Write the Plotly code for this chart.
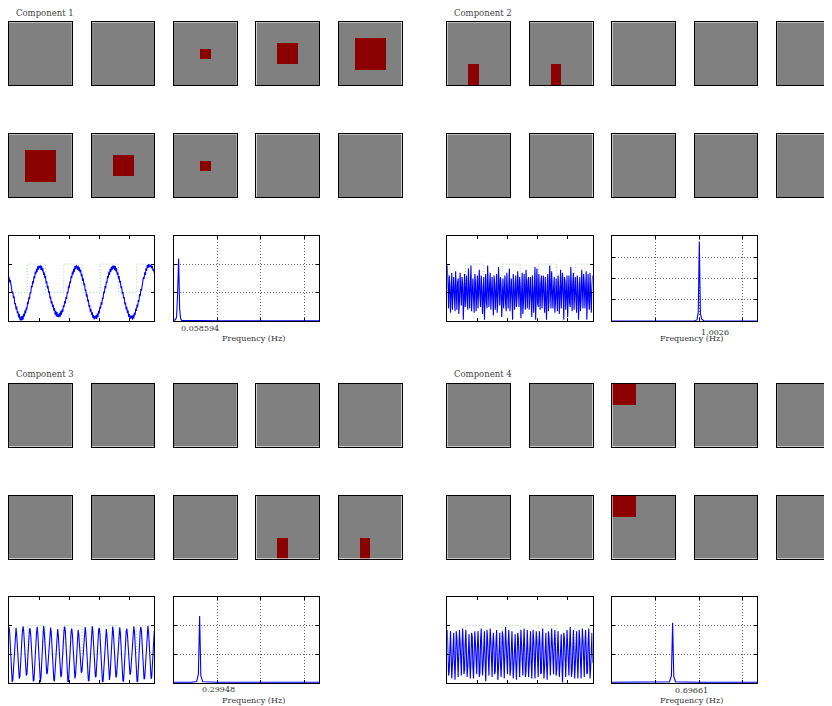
import plotly.graph_objects as go

# page window is 832x706; the html body has an 8px margin, so the figure is
# drawn 8px in from the top-left corner and sized to fill the rest.
PAGE_W, PAGE_H = 832, 706
OFF = 8
W, H = PAGE_W - OFF, PAGE_H - OFF

# ---------------- data ----------------
grid = 24
# red (active) region of each of the 10 frames: (row0, row1, col0, col1) or None
comp1_frames = [None, None, (10, 14, 10, 14), (8, 16, 8, 16), (6, 18, 6, 18),
                (6, 18, 6, 18), (8, 16, 8, 16), (10, 14, 10, 14), None, None]
comp2_frames = [(16, 24, 8, 12), (16, 24, 8, 12), None, None, None,
                None, None, None, None, None]
comp3_frames = [None, None, None, None, None,
                None, None, None, (16, 24, 8, 12), (16, 24, 8, 12)]
comp4_frames = [None, None, (0, 8, 0, 9), None, None,
                None, None, (0, 8, 0, 9), None, None]

# stimulus block design (sample index of block edges, level of each block)
stim_edges = [0, 28.5, 57, 85.5, 114, 142.5, 171, 199.5, 227]
stim_levels = [0, 1, 0, 1, 0, 1, 0, 1, 1]

comp1_ts = [0.56, 0.36, 0.45, 0.22, 0.25, -0.02, 0.04, -0.19, -0.13, -0.40, -0.36, -0.59, -0.49, -0.72, -0.65, -0.87, -0.74, -0.93, -0.97, -0.83,
            -0.97, -0.81, -0.95, -0.73, -0.83, -0.62, -0.73, -0.52, -0.59, -0.32, -0.40, -0.16, -0.23, 0.01, -0.03, 0.24, 0.18, 0.41, 0.32, 0.57, 0.50, 0.74, 0.65, 0.84, 0.72, 0.93, 0.81, 0.94,
            0.86,
            0.96, 0.80, 0.94, 0.75, 0.85, 0.62, 0.71, 0.51, 0.59, 0.34, 0.40, 0.15, 0.23, -0.01, 0.05, -0.20, -0.14, -0.38, -0.29, -0.51, -0.42, -0.63, -0.54, -0.77, -0.64, -0.83, -0.68, -0.85, -0.76, -0.86,
            -0.71, -0.84, -0.64, -0.77, -0.58, -0.68, -0.44, -0.51, -0.29, -0.38, -0.15, -0.22, 0.03, -0.02, 0.24, 0.16, 0.39, 0.33, 0.58, 0.51, 0.74, 0.63, 0.84, 0.72, 0.93, 0.82, 0.96, 0.87,
            0.81, 0.95, 0.76, 0.89, 0.71, 0.80, 0.57, 0.65, 0.41, 0.50, 0.26, 0.33, 0.07, 0.11, -0.14, -0.06, -0.31, -0.24, -0.50, -0.43, -0.67, -0.57, -0.77, -0.68, -0.89, -0.78, -0.94, -0.82, -0.91,
            -0.79, -0.92, -0.73, -0.86, -0.64, -0.73, -0.49, -0.56, -0.34, -0.42, -0.17, -0.22, 0.04, -0.02, 0.23, 0.15, 0.39, 0.34, 0.59, 0.51, 0.73, 0.62, 0.84, 0.73, 0.91, 0.79, 0.94, 0.84,
            0.96, 0.79, 0.93, 0.74, 0.86, 0.63, 0.71, 0.49, 0.58, 0.35, 0.42, 0.16, 0.22, -0.04, 0.03, -0.20, -0.15, -0.41, -0.35, -0.59, -0.50, -0.72, -0.62, -0.85, -0.75, -0.92, -0.80, -0.90, -0.81,
            -0.95, -0.77, -0.90, -0.70, -0.79, -0.56, -0.64, -0.42, -0.51, -0.26, -0.32, -0.05, -0.12, 0.13, 0.07, 0.32, 0.28, 0.55, 0.48, 0.71, 0.62, 0.85, 0.76, 0.97, 0.87, 1.00, 0.89, 0.98,
            0.90, 0.97, 0.85, 0.93, 0.77, 0.83, 0.68]

comp2_ts = [0.95, -0.30, -0.55, 0.60, 0.25, -0.70, 0.15, 0.70, -0.60, -0.20,
            0.55, -0.10, -0.65, 0.75, 0.10, -0.60, 0.35, 0.50, -0.75, -0.30,
            0.70, -0.25, -0.45, 0.55, 0.30, -0.95, 0.20, 0.65, -0.50, -0.15,
            0.60, -0.35, -0.60, 0.85, 0.15, -0.55, 0.30, 0.95, -0.65, -0.25,
            0.50, -0.20, -0.70, 0.65, 0.35, -0.65, 0.10, 0.60, -0.55, -0.10,
            0.80, -0.15, -0.50, 0.60, 0.20, -0.75, 0.40, 0.55, -0.95, -0.35,
            0.65, -0.30, -0.55, 0.95, 0.05, -0.50, 0.25, 0.70, -0.60, -0.20,
            0.55, -0.25, -0.80, 0.60, 0.30, -0.60, 0.15, 0.65, -0.70, -0.30,
            0.90, -0.10, -0.45, 0.55, 0.25, -0.85, 0.35, 0.50, -0.55, -0.05,
            0.60, -0.35, -0.65, 0.70, 0.10, -0.55, 0.20, 0.85, -0.65, -0.25,
            0.50, -0.20, -0.95, 0.65, 0.30, -0.60, 0.30, 0.60, -0.50, -0.15,
            0.75, -0.30, -0.50, 0.55, 0.20, -0.90, 0.10, 0.70, -0.75, -0.35,
            0.65, -0.05, -0.60, 0.80, 0.35, -0.55, 0.40, 0.55, -0.60, -0.20,
            0.55, -0.25, -0.85, 0.60, 0.15, -0.70, 0.20, 0.90, -0.95, -0.30,
            0.85, -0.35, -0.50, 0.65, 0.25, -0.60, 0.30, 0.60, -0.55, -0.10,
            0.60, -0.15, -0.70, 0.55, 0.05, -0.95, 0.25, 0.65, -0.65, -0.25,
            0.95, -0.30, -0.55, 0.75, 0.30, -0.55, 0.15, 0.55, -0.70, -0.35,
            0.50, -0.20, -0.65, 0.60, 0.20, -0.75, 0.35, 0.80, -0.55, -0.15,
            0.70, -0.10, -0.95, 0.55, 0.35, -0.60, 0.20, 0.60, -0.85, -0.30,
            0.60, -0.35, -0.50, 0.90, 0.10, -0.65, 0.30, 0.70, -0.60, -0.20,
            0.55, -0.25, -0.70, 0.60, 0.25, -0.95, 0.15, 0.55, -0.65, -0.25,
            0.80, -0.15, -0.55, 0.65, 0.30, -0.55, 0.40, 0.75, -0.95, -0.10,
            0.65, -0.30, -0.60, 0.70, 0.20, -0.70, 0.25, 0.60]

comp3_ts = [0.95, 0.78, 0.35, -0.20, -0.65, -0.98, -0.90, -0.55, -0.10, 0.40, 0.85,
            0.92, 0.70, 0.28, -0.25, -0.60, -0.85, -0.80, -0.50, -0.05, 0.45, 0.80,
            0.98, 0.80, 0.30, -0.15, -0.55, -0.75, -0.70, -0.40, 0.00, 0.50, 0.88,
            0.90, 0.65, 0.20, -0.30, -0.70, -0.95, -0.92, -0.60, -0.15, 0.35, 0.75,
            0.96, 0.72, 0.25, -0.30, -0.75, -0.98, -0.80, -0.35, 0.15, 0.65,
            0.99, 0.82, 0.40, -0.10, -0.50, -0.70, -0.65, -0.35, 0.05, 0.48, 0.85,
            0.93, 0.75, 0.30, -0.22, -0.62, -0.90, -0.95, -0.62, -0.18, 0.30, 0.72,
            0.88, 0.68, 0.25, -0.20, -0.58, -0.80, -0.75, -0.45, -0.02, 0.45, 0.82,
            0.97, 0.80, 0.35, -0.18, -0.65, -0.96, -0.98, -0.66, -0.20, 0.32, 0.78,
            0.90, 0.70, 0.22, -0.28, -0.68, -0.85, -0.72, -0.30, 0.18, 0.62,
            0.85, 0.70, 0.30, -0.15, -0.50, -0.65, -0.60, -0.30, 0.08, 0.50, 0.80,
            0.95, 0.76, 0.32, -0.22, -0.64, -0.94, -0.92, -0.58, -0.12, 0.38, 0.82,
            0.98, 0.82, 0.38, -0.12, -0.55, -0.80, -0.78, -0.48, -0.05, 0.42, 0.84,
            0.92, 0.72, 0.26, -0.26, -0.70, -0.98, -0.95, -0.60, -0.14, 0.36, 0.76,
            0.88, 0.66, 0.20, -0.30, -0.72, -0.90, -0.70, -0.28, 0.20, 0.64,
            0.97, 0.80, 0.36, -0.16, -0.58, -0.82, -0.76, -0.44, 0.00, 0.46, 0.85,
            0.94, 0.74, 0.30, -0.24, -0.66, -0.96, -0.94, -0.62, -0.16, 0.34, 0.78,
            0.90, 0.70, 0.28, -0.20, -0.55, -0.72, -0.66, -0.36, 0.05, 0.48, 0.86,
            0.98, 0.80, 0.34, -0.20, -0.64, -0.95, -0.97, -0.64, -0.18, 0.34, 0.80,
            0.96, 0.78, 0.32, -0.18, -0.60, -0.88, -0.85, -0.52, -0.08, 0.42, 0.84,
            0.99, 0.80, 0.36, -0.16, -0.60, -0.86, -0.80, -0.48, -0.04, 0.45, 0.82]

comp4_ts = [0.85, 0.20, -0.75, -0.60, 0.45, 0.80, 0.00, -0.85, -0.40, 0.65, 0.75, -0.25, -0.90, -0.15, 0.80, 0.55, -0.50, -0.80, 0.05, 0.85, 0.40, -0.65, -0.75, 0.30,
            0.90, 0.25, -0.70, -0.55, 0.40, 0.85, -0.05, -0.80, -0.45, 0.60, 0.70, -0.30, -0.85, -0.20, 0.75, 0.60, -0.45, -0.85, 0.00, 0.80, 0.35, -0.70, -0.70, 0.25,
            0.80, 0.15, -0.80, -0.65, 0.50, 0.90, 0.05, -0.75, -0.35, 0.70, 0.80, -0.20, -0.95, -0.10, 0.85, 0.50, -0.55, -0.75, 0.10, 0.90, 0.45, -0.60, -0.80, 0.35,
            0.75, 0.20, -0.70, -0.60, 0.40, 0.85, -0.05, -0.90, -0.45, 0.60, 0.75, -0.30, -0.80, -0.20, 0.80, 0.60, -0.50, -0.85, 0.05, 0.95, 0.40, -0.70, -0.70, 0.30,
            0.85, 0.25, -0.75, -0.55, 0.45, 0.80, 0.00, -0.85, -0.40, 0.65, 0.70, -0.25, -0.90, -0.15, 0.75, 0.55, -0.45, -0.80, 0.00, 0.85, 0.35, -0.65, -0.75, 0.25,
            0.90, 0.15, -0.80, -0.60, 0.50, 0.85, 0.05, -0.80, -0.35, 0.70, 0.80, -0.20, -0.85, -0.10, 0.85, 0.50, -0.55, -0.85, 0.10, 0.80, 0.45, -0.60, -0.80, 0.35,
            0.80, 0.20, -0.70, -0.65, 0.40, 0.90, -0.05, -0.85, -0.45, 0.60, 0.75, -0.30, -0.90, -0.20, 0.80, 0.60, -0.50, -0.75, 0.05, 0.90, 0.40, -0.70, -0.70, 0.30,
            0.85, 0.25, -0.75, -0.55, 0.45, 0.80, 0.00, -0.80, -0.40, 0.65, 0.70, -0.25, -1.00, -0.15, 0.75, 0.55, -0.45, -0.80, 0.00, 0.85, 0.35, -0.65, -0.75, 0.25,
            0.95, 0.15, -0.80, -0.60, 0.50, 0.85, 0.05, -0.85, -0.35, 0.70, 0.80, -0.20, -0.85, -0.10, 0.85, 0.50, -0.55, -0.85, 0.10, 0.90, 0.45, -0.60, -0.80, 0.35,
            0.85, 0.20, -0.70, -0.65, 0.40, 0.90, -0.05, -0.85, -0.45, 0.60, 0.75, -0.30]

peak_freqs = [0.058594, 1.0026, 0.29948, 0.69661]

comp1_spec_f = [0.0, 0.0117, 0.0234, 0.0352, 0.0469, 0.058594, 0.0703, 0.082, 0.0938, 0.2, 0.5, 1.0, 1.5, 1.6667]
comp1_spec_a = [0.06, 0.04, 0.05, 0.15, 0.95, 2.2, 0.45, 0.08, 0.03, 0.02, 0.015, 0.01, 0.01, 0.01]
comp2_spec_f = [0.0, 0.5, 0.95, 0.975, 0.99, 1.0026, 1.015, 1.03, 1.055, 1.5, 1.6667]
comp2_spec_a = [0.01, 0.01, 0.02, 0.06, 0.4, 3.72, 0.35, 0.1, 0.02, 0.01, 0.01]
comp3_spec_f = [0.0, 0.2, 0.265, 0.285, 0.29948, 0.313, 0.335, 0.5, 1.6667]
comp3_spec_a = [0.01, 0.01, 0.04, 0.3, 2.34, 0.25, 0.03, 0.01, 0.01]
comp4_spec_f = [0.0, 0.5, 0.66, 0.683, 0.69661, 0.71, 0.73, 1.0, 1.6667]
comp4_spec_a = [0.01, 0.01, 0.03, 0.25, 2.1, 0.22, 0.03, 0.01, 0.01]
spec_ymax = [3, 4, 3, 3]
spec_yticks = [[1, 2], [1, 2, 3], [1, 2], [1, 2]]

titles = ["Component 1", "Component 2", "Component 3", "Component 4"]
freq_label = "Frequency (Hz)"

frames_all = [comp1_frames, comp2_frames, comp3_frames, comp4_frames]
ts_all = [comp1_ts, comp2_ts, comp3_ts, comp4_ts]
spec_f_all = [comp1_spec_f, comp2_spec_f, comp3_spec_f, comp4_spec_f]
spec_a_all = [comp1_spec_a, comp2_spec_a, comp3_spec_a, comp4_spec_a]

# ---------------- layout geometry (page pixels) ----------------
ox = [0, 438.3, 0, 438.3]
oy = [0, 0, 361.5, 361.5]
img_x0 = [9, 91.5, 174, 256.4, 338.8]
img_y0 = [22.3, 134.3]
img_w = 62.7
ts_x = (9, 154.3)
fq_x = (173.5, 319)
pl_y = (235.6, 321.2)
label_dy = [328, 332, 328, 328.5]


def fx(xp):
    return (xp - OFF) / W


def fy(yp):
    return 1 - (yp - OFF) / H


fig = go.Figure()
layout = dict(width=W, height=H, margin=dict(l=0, r=0, t=0, b=0),
              paper_bgcolor="white", plot_bgcolor="white", showlegend=False,
              annotations=[])
counter = [0]


def new_axes(x0, x1, y0, y1, xo, yo):
    counter[0] += 1
    n = counter[0]
    sx = "" if n == 1 else str(n)
    xd = [max(0, fx(x0)), min(1, fx(x1))]
    yd = [max(0, fy(y1)), min(1, fy(y0))]
    layout["xaxis" + sx] = dict(xo, domain=xd, anchor="y" + sx)
    layout["yaxis" + sx] = dict(yo, domain=yd, anchor="x" + sx)
    return "x" + sx, "y" + sx


def frame_image(rect):
    z = [[0] * grid for _ in range(grid)]
    if rect is not None:
        r0, r1, c0, c1 = rect
        for r in range(r0, r1):
            for c in range(c0, c1):
                z[r][c] = 1
    return z


font_small = dict(family="DejaVu Serif", size=8, color="#333")
GRID_DASH = "1px,2px"

for ci in range(4):
    layout["annotations"].append(dict(
        text=titles[ci], x=fx(ox[ci] + 14), y=fy(oy[ci] + 12.7),
        xref="paper", yref="paper", xanchor="left", yanchor="middle",
        showarrow=False, font=dict(family="DejaVu Serif", size=8.5, color="#444")))
    for k in range(10):
        row, col = divmod(k, 5)
        x0 = ox[ci] + img_x0[col]
        x1 = x0 + img_w
        y0 = oy[ci] + img_y0[row]
        y1 = y0 + img_w
        clipped = x1 > PAGE_W
        xr_end = -0.5 + grid * (min(x1, PAGE_W) - x0) / img_w
        xa, ya = new_axes(
            x0, x1, y0, y1,
            dict(range=[-0.5, xr_end], showline=True, mirror=True, linecolor="black",
                 linewidth=1.2, showticklabels=False, ticks="", showgrid=False, zeroline=False),
            dict(range=[grid - 0.5, -0.5], showline=True, mirror=not clipped, linecolor="black",
                 linewidth=1.2, showticklabels=False, ticks="", showgrid=False, zeroline=False))
        fig.add_trace(go.Heatmap(z=frame_image(frames_all[ci][k]), x0=0, dx=1, y0=0, dy=1,
                                 zmin=0, zmax=1, colorscale=[[0, "#808080"], [1, "#8b0000"]],
                                 showscale=False, hoverinfo="skip", xaxis=xa, yaxis=ya))
    series = ts_all[ci]
    t = list(range(len(series)))
    xa, ya = new_axes(
        ox[ci] + ts_x[0], ox[ci] + ts_x[1], oy[ci] + pl_y[0], oy[ci] + pl_y[1],
        dict(range=[0, len(series) - 1], showline=True, mirror="ticks", linecolor="black",
             linewidth=1.2, ticks="inside", ticklen=3, tickcolor="black",
             tickvals=[47, 94, 141, 188], showticklabels=False, showgrid=False, zeroline=False),
        dict(range=[-1, 2], showline=True, mirror="ticks", linecolor="black", linewidth=1.2,
             ticks="inside", ticklen=3, tickcolor="black", tickvals=[0, 1],
             showticklabels=False, showgrid=False, zeroline=False))
    fig.add_trace(go.Scatter(x=stim_edges, y=stim_levels, mode="lines",
                             line=dict(color="rgb(160,210,160)", width=1, dash=GRID_DASH, shape="hv"),
                             hoverinfo="skip", xaxis=xa, yaxis=ya))
    fig.add_trace(go.Scatter(x=t, y=series, mode="lines",
                             line=dict(color="#0000ff", width=1.1),
                             hoverinfo="skip", xaxis=xa, yaxis=ya))
    xa, ya = new_axes(
        ox[ci] + fq_x[0], ox[ci] + fq_x[1], oy[ci] + pl_y[0], oy[ci] + pl_y[1],
        dict(range=[0, 1.6667], showline=True, mirror="ticks", linecolor="black",
             linewidth=1.2, ticks="inside", ticklen=3, tickcolor="black",
             tickvals=[0.5, 1.0, 1.5], showticklabels=False, showgrid=True,
             gridcolor="#666", griddash=GRID_DASH, gridwidth=1, zeroline=False),
        dict(range=[0, spec_ymax[ci]], showline=True, mirror="ticks", linecolor="black",
             linewidth=1.2, ticks="inside", ticklen=3, tickcolor="black",
             tickvals=spec_yticks[ci], showticklabels=False, showgrid=True,
             gridcolor="#666", griddash=GRID_DASH, gridwidth=1, zeroline=False))
    fig.add_trace(go.Scatter(x=spec_f_all[ci], y=spec_a_all[ci], mode="lines",
                             line=dict(color="#0000ff", width=1.1),
                             hoverinfo="skip", xaxis=xa, yaxis=ya))
    layout["annotations"].append(dict(
        text=str(peak_freqs[ci]), x=peak_freqs[ci], xref=xa,
        y=fy(oy[ci] + label_dy[ci]), yref="paper",
        xanchor="left", yanchor="middle", showarrow=False, font=font_small))
    layout["annotations"].append(dict(
        text=freq_label, x=fx(ox[ci] + 253.5), y=fy(oy[ci] + 338.5),
        xref="paper", yref="paper", xanchor="center", yanchor="middle",
        showarrow=False, font=font_small))

fig.update_layout(**layout)
fig.write_html("out.html")
